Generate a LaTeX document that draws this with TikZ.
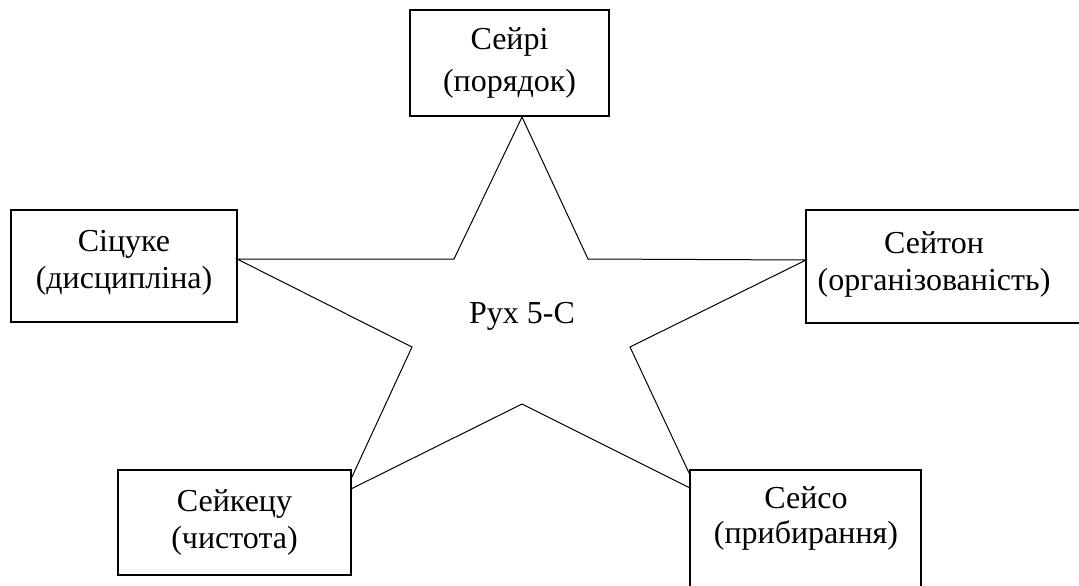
\documentclass[tikz,border=0pt]{standalone}
\usepackage{fontspec}
\setmainfont{Liberation Serif}
\usetikzlibrary{positioning}

\tikzset{
  lbl/.style={align=center, inner sep=0pt, font=\fontsize{32}{37}\selectfont},
  box/.style={lbl, draw, line width=1.2pt},
  star/.style={line width=1pt},
}

\begin{document}
\begin{tikzpicture}[x=1pt,y=-1pt]
            \useasboundingbox (0,0) rectangle (1079,586);
            % five boxes round the star
            \node[box, minimum width=199pt, minimum height=106pt, font=\fontsize{32}{42}\selectfont] (poryadok) at (509.5,63) {Сейрі\\(порядок)};
            \node[box, minimum width=226pt, minimum height=112pt] (dystsyplina) at (124,266) {};
            \node[lbl] (dystsyplinatext) at (124,263) {Сіцуке\\(дисципліна)};
            \node[box, minimum width=284pt, minimum height=113pt] (organiz) at (948,266.5) {};
            \node[lbl] (organiztext) at (934,264) {Сейтон\\(організованість)};
            \node[box, minimum width=233pt, minimum height=105pt] (chystota) at (234.5,522.5) {Сейкецу\\(чистота)};
            \node[box, minimum width=231pt, minimum height=130pt] (prybyr) at (805.5,535) {};
            \node[lbl, anchor=north, font=\fontsize{32}{35}\selectfont] (prybyrtext) at (806,486.5) {Сейсо\\(прибирання)};
            % the star
            \draw[star] (522,117) -- (588,259) -- (806,260) -- (630,347) -- (690,475) -- (690,488)
                -- (522,404) -- (351,489) -- (351,479) -- (412,347) -- (237,259) -- (454,259) -- cycle;
            \node[lbl, anchor=base] (rukh) at (522,323) {Рух 5-С};
        \end{tikzpicture}
\end{document}
